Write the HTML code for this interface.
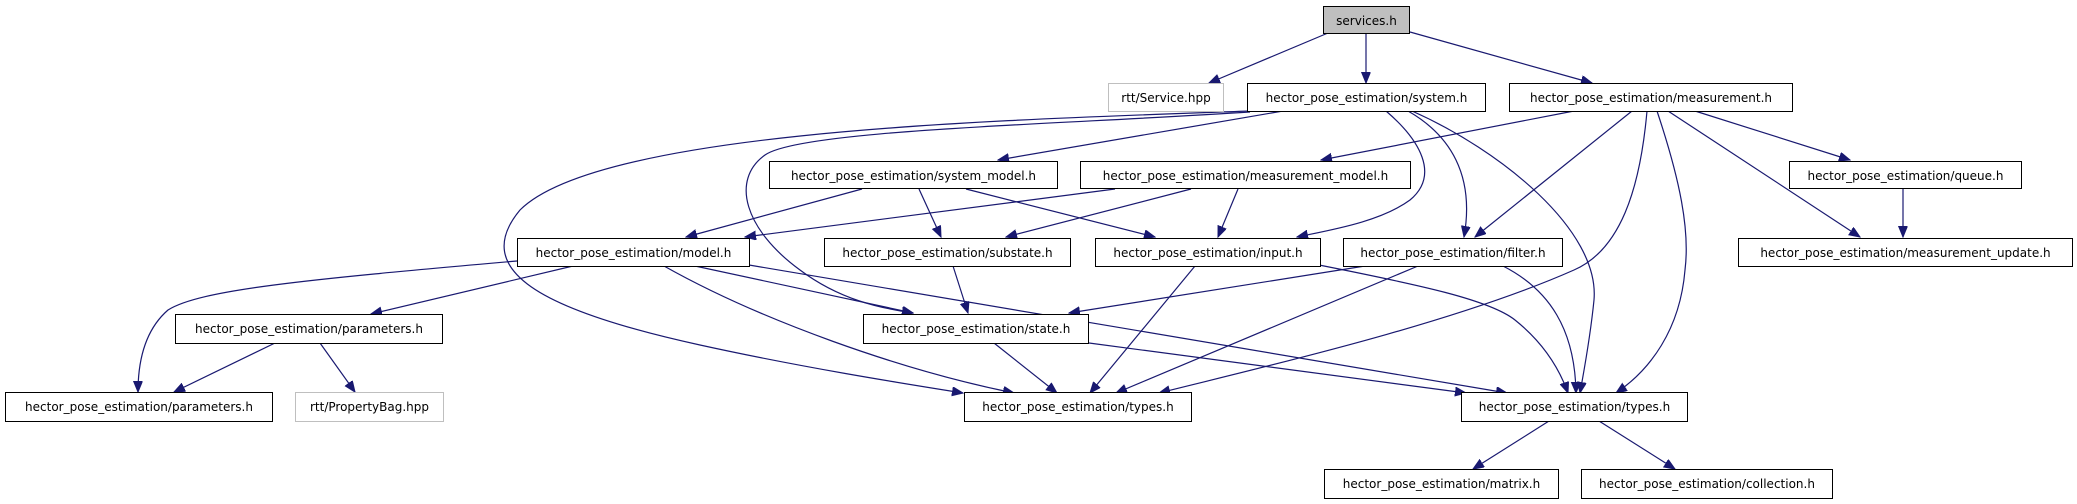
<!DOCTYPE html>
<html><head><meta charset="utf-8"><style>
html,body{margin:0;padding:0;background:#fff;}
svg{display:block;}
text{font-family:"DejaVu Sans","Liberation Sans",sans-serif;font-size:12px;fill:#000;}
.e{fill:none;stroke:#191970;stroke-width:1.2;marker-end:url(#a);}
.b{fill:#fff;stroke:#000;stroke-width:1;}
.g{fill:#fff;stroke:#bfbfbf;stroke-width:1;}
</style></head><body>
<svg width="2077" height="504" viewBox="0 0 2077 504" xmlns="http://www.w3.org/2000/svg">
<defs><marker id="a" markerUnits="userSpaceOnUse" markerWidth="12" markerHeight="10" refX="11" refY="4.5" orient="auto"><path d="M0,0 L11,4.5 L0,9 z" fill="#191970" stroke="#191970"/></marker></defs>
<!-- edges -->
<path class="e" d="M1328,33 L1209,83"/>
<path class="e" d="M1366,33 L1366,83"/>
<path class="e" d="M1410,32 L1592,83"/>
<path class="e" d="M1283,111 L998,160"/>
<path class="e" d="M1250,111 C1000,120 600,130 520,210 C470,270 540,310 700,345 C800,367 900,383 963,393"/>
<path class="e" d="M1250,112 C1050,125 800,130 765,155 C730,180 745,230 800,270 C840,300 880,308 913,313"/>
<path class="e" d="M1386,111 C1420,140 1440,175 1410,200 C1380,222 1330,230 1297,237"/>
<path class="e" d="M1408,111 C1450,135 1475,175 1464,237"/>
<path class="e" d="M1412,111 C1500,150 1600,230 1594,300 C1590,340 1584,370 1580,393"/>
<path class="e" d="M1574,111 L1321,160"/>
<path class="e" d="M1632,111 L1475,237"/>
<path class="e" d="M1647,111 C1640,190 1620,250 1574,270 C1450,325 1250,370 1159,393"/>
<path class="e" d="M1657,111 C1680,180 1690,230 1685,270 C1680,330 1650,370 1616,393"/>
<path class="e" d="M1668,111 L1860,237"/>
<path class="e" d="M1695,111 L1850,160"/>
<path class="e" d="M1903,188 L1903,237"/>
<path class="e" d="M862,189 L686,237"/>
<path class="e" d="M919,189 L941,237"/>
<path class="e" d="M966,189 L1155,237"/>
<path class="e" d="M1115,189 L745,237"/>
<path class="e" d="M1191,189 L1006,237"/>
<path class="e" d="M1238,189 L1218,237"/>
<path class="e" d="M517,261 C300,280 200,290 168,310 C145,330 138,360 138,392"/>
<path class="e" d="M573,266 L371,314"/>
<path class="e" d="M695,266 L913,313"/>
<path class="e" d="M664,266 C760,320 900,370 1014,393"/>
<path class="e" d="M749,265 L1507,393"/>
<path class="e" d="M953,266 L968,313"/>
<path class="e" d="M994,343 L1057,393"/>
<path class="e" d="M1089,343 L1466,393"/>
<path class="e" d="M1195,266 L1090,393"/>
<path class="e" d="M1319,265 C1420,285 1490,300 1515,320 C1540,340 1558,365 1568,393"/>
<path class="e" d="M1365,266 L1069,313"/>
<path class="e" d="M1418,266 L1116,393"/>
<path class="e" d="M1503,266 C1550,290 1575,330 1576,393"/>
<path class="e" d="M275,343 L174,392"/>
<path class="e" d="M320,343 L355,392"/>
<path class="e" d="M1549,421 L1473,469"/>
<path class="e" d="M1599,421 L1675,469"/>
<!-- nodes -->
<rect x="1323.5" y="6.5" width="86" height="27" fill="#bfbfbf" stroke="#000"/><text x="1366.5" y="25" text-anchor="middle">services.h</text>
<rect class="g" x="1108.5" y="83.5" width="115" height="28"/><text x="1166" y="102" text-anchor="middle">rtt/Service.hpp</text>
<rect class="b" x="1247.5" y="83.5" width="238" height="28"/><text x="1366.5" y="102" text-anchor="middle">hector_pose_estimation/system.h</text>
<rect class="b" x="1509.5" y="83.5" width="283" height="28"/><text x="1651" y="102" text-anchor="middle">hector_pose_estimation/measurement.h</text>
<rect class="b" x="769.5" y="161.5" width="288" height="27"/><text x="913.5" y="180" text-anchor="middle">hector_pose_estimation/system_model.h</text>
<rect class="b" x="1080.5" y="161.5" width="330" height="27"/><text x="1245.5" y="180" text-anchor="middle">hector_pose_estimation/measurement_model.h</text>
<rect class="b" x="1789.5" y="161.5" width="232" height="27"/><text x="1905.5" y="180" text-anchor="middle">hector_pose_estimation/queue.h</text>
<rect class="b" x="517.5" y="238.5" width="232" height="28"/><text x="633.5" y="257" text-anchor="middle">hector_pose_estimation/model.h</text>
<rect class="b" x="824.5" y="238.5" width="246" height="28"/><text x="947.5" y="257" text-anchor="middle">hector_pose_estimation/substate.h</text>
<rect class="b" x="1095.5" y="238.5" width="225" height="28"/><text x="1208" y="257" text-anchor="middle">hector_pose_estimation/input.h</text>
<rect class="b" x="1343.5" y="238.5" width="219" height="28"/><text x="1453" y="257" text-anchor="middle">hector_pose_estimation/filter.h</text>
<rect class="b" x="1738.5" y="238.5" width="334" height="28"/><text x="1905.5" y="257" text-anchor="middle">hector_pose_estimation/measurement_update.h</text>
<rect class="b" x="175.5" y="314.5" width="267" height="29"/><text x="309" y="333" text-anchor="middle">hector_pose_estimation/parameters.h</text>
<rect class="b" x="863.5" y="314.5" width="225" height="29"/><text x="976" y="333" text-anchor="middle">hector_pose_estimation/state.h</text>
<rect class="b" x="5.5" y="392.5" width="267" height="29"/><text x="139" y="411" text-anchor="middle">hector_pose_estimation/parameters.h</text>
<rect class="g" x="295.5" y="392.5" width="148" height="29"/><text x="369.5" y="411" text-anchor="middle">rtt/PropertyBag.hpp</text>
<rect class="b" x="964.5" y="392.5" width="227" height="29"/><text x="1078" y="411" text-anchor="middle">hector_pose_estimation/types.h</text>
<rect class="b" x="1461.5" y="392.5" width="226" height="29"/><text x="1574.5" y="411" text-anchor="middle">hector_pose_estimation/types.h</text>
<rect class="b" x="1324.5" y="469.5" width="234" height="29"/><text x="1441.5" y="488" text-anchor="middle">hector_pose_estimation/matrix.h</text>
<rect class="b" x="1581.5" y="469.5" width="251" height="29"/><text x="1707" y="488" text-anchor="middle">hector_pose_estimation/collection.h</text>
</svg>
</body></html>
